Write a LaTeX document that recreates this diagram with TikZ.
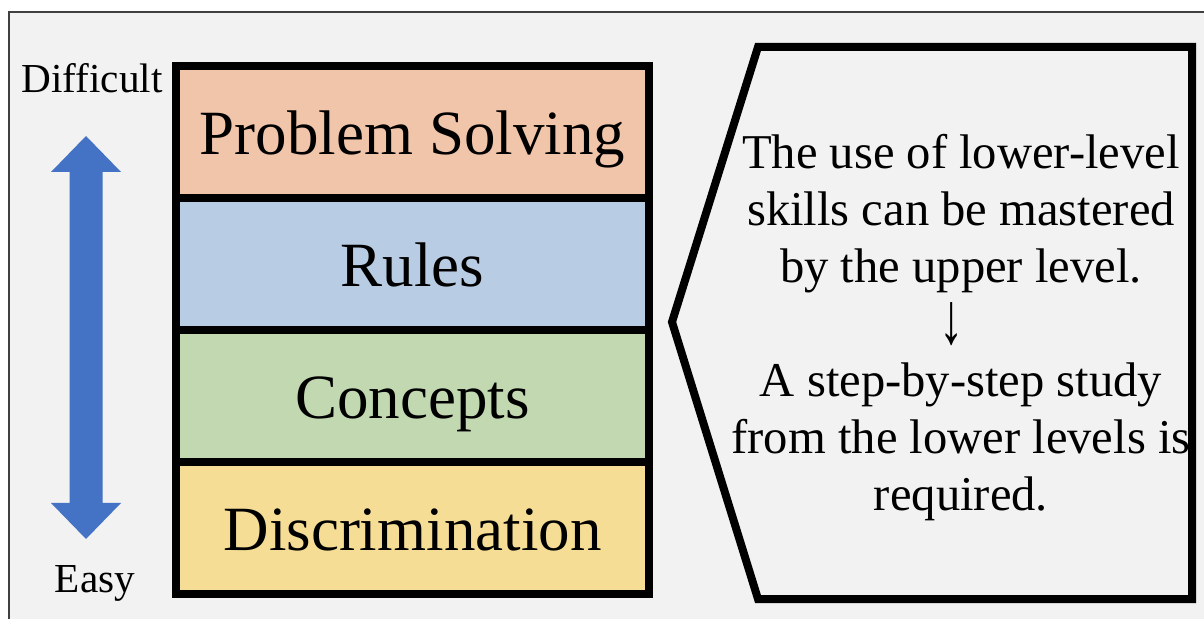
\documentclass[tikz,border=0pt]{standalone}
\usepackage{fontspec}
\setmainfont{Liberation Serif}
\definecolor{solvingcol}{RGB}{240,197,170}
\definecolor{rulescol}{RGB}{184,205,227}
\definecolor{conceptcol}{RGB}{193,216,177}
\definecolor{discrimcol}{RGB}{245,221,150}
\definecolor{arrowcol}{RGB}{68,114,196}
\definecolor{panelcol}{RGB}{242,242,242}
\begin{document}
\begin{tikzpicture}[x=0.5pt,y=-0.5pt,
    level/.style={draw=black,line width=4pt,minimum width=236.5pt,minimum height=66pt,inner sep=0pt,
      font=\fontsize{31.5}{36}\selectfont,text height=23pt,text depth=0pt},
    side/.style={anchor=base,inner sep=0pt,font=\fontsize{20.6}{24}\selectfont}]
        \useasboundingbox (0,0) rectangle (1204,619);
        \clip (0,0) rectangle (1204,619);
        \fill [white] (0,0) rectangle (1204,619);
        \draw [line width=0.8pt,black!75,fill=panelcol] (9,12) rectangle (1240,650);
        % hierarchy of levels
        \node [level,fill=solvingcol] (solving) at (412.5,132) {Problem Solving};
        \node [level,fill=rulescol] (rules) at (412.5,264) {Rules};
        \node [level,fill=conceptcol] (concepts) at (412.5,396) {Concepts};
        \node [level,fill=discrimcol] (discrim) at (412.5,528) {Discrimination};
        % difficulty scale
        \node [side] (difficult) at (92,93) {Difficult};
        \node [side] (easy) at (95,592) {Easy};
        \fill [arrowcol] (86,136) -- (121,172) -- (102.5,172) -- (102.5,503) -- (121,503) -- (86,539)
              -- (51,503) -- (69.5,503) -- (69.5,172) -- (51,172) -- cycle;
        % note panel
        \draw [line width=4pt,line join=miter] (758,47) -- (1192,47) -- (1192,599) -- (758,599) -- (672,322) -- cycle;
        \node [align=center,inner sep=0pt,font=\fontsize{24.3}{28.5}\selectfont] (note) at (961,328)
              {The use of lower-level\\skills can be mastered\\by the upper level.\\\hspace*{-9pt}\raisebox{-2pt}{\scalebox{1}[1.5]{↓}}\\A step-by-step study\\from the lower levels is\\required.};
\end{tikzpicture}
\end{document}
